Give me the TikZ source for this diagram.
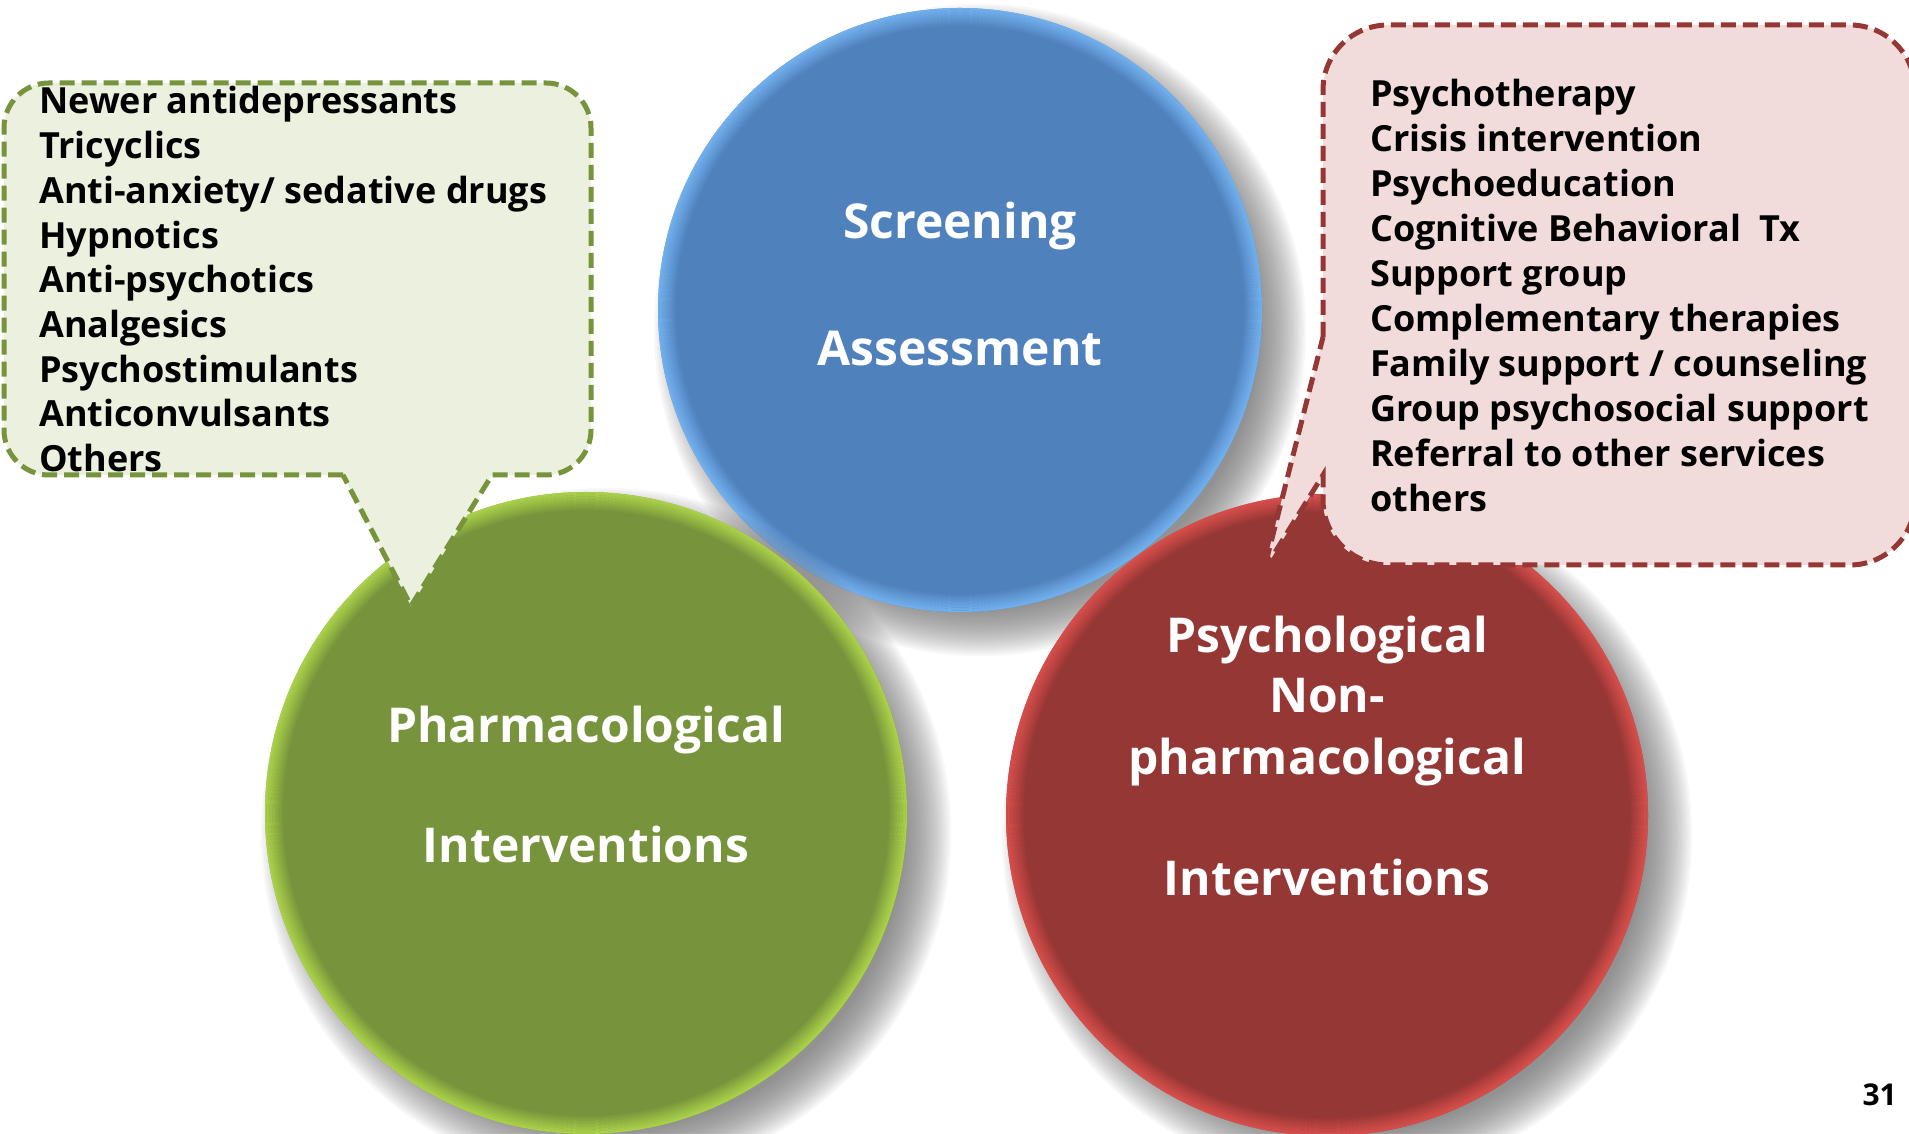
\documentclass[tikz,border=0pt]{standalone}
\usepackage{fontspec}
\setmainfont{Open Sans}
\definecolor{bluemain}{HTML}{4F81BD}
\definecolor{blueglow}{HTML}{78B8F6}
\definecolor{greenmain}{HTML}{77933C}
\definecolor{greenglow}{HTML}{B4DC4C}
\definecolor{redmain}{HTML}{953735}
\definecolor{redglow}{HTML}{E2534F}
\definecolor{greenfill}{HTML}{EBF1DE}
\definecolor{redfill}{HTML}{F2DCDB}
\definecolor{shadowgray}{HTML}{707070}
\begin{document}
\begin{tikzpicture}[x=1pt,y=1pt,
  bigcircle/.style={circle, inner sep=0pt, minimum size=#1},
  circletext/.style={text=white, font=\fontsize{48}{58}\selectfont\bfseries, anchor=base},
  listtext/.style={text=black, font=\fontsize{36}{42}\selectfont\bfseries, anchor=base west, inner sep=0pt},
  calloutline/.style={line width=5pt, dash pattern=on 15pt off 7pt},
  softshadow/.style={fill=shadowgray, fill opacity=0.055}
]
\useasboundingbox (0,0) rectangle (1909,1133);
\fill[white] (0,0) rectangle (1909,1133);

% ---- soft shadows ----
\foreach \i in {0,...,21} {
  \fill[softshadow] (980,803) circle ({302+24-2.2*\i});
}

% ---- blue circle ----
\node[bigcircle=604pt, fill=bluemain] (blue) at (960,823) {};
\foreach \i [evaluate=\i as \op using 0.85*(1-\i/12)] in {0,...,11}
  \draw[blueglow, opacity=\op, line width=1.6pt] (blue.center) circle ({302-0.8-1.5*\i});

% ---- green and red shadows ----
\foreach \i in {0,...,21} {
  \fill[softshadow] (606,300) circle ({321+24-2.2*\i});
  \fill[softshadow] (1347,298) circle ({321+24-2.2*\i});
}

\node[bigcircle=642pt, fill=greenmain] (green) at (586,320) {};
\foreach \i [evaluate=\i as \op using 0.85*(1-\i/12)] in {0,...,11}
  \draw[greenglow, opacity=\op, line width=1.6pt] (green.center) circle ({321-0.8-1.5*\i});

\node[bigcircle=642pt, fill=redmain] (red) at (1327,318) {};
\foreach \i [evaluate=\i as \op using 0.85*(1-\i/12)] in {0,...,11}
  \draw[redglow, opacity=\op, line width=1.6pt] (red.center) circle ({321-0.8-1.5*\i});

% ---- circle texts ----
\node[circletext] (scr) at (960,894) {Screening};
\node[circletext] (ass) at (960,767) {Assessment};
\node[circletext] (pha) at (586,390) {Pharmacological};
\node[circletext] (inta) at (586,270) {Interventions};
\node[circletext] (psy) at (1327,480) {Psychological};
\node[circletext] (non) at (1327,420) {Non-};
\node[circletext] (nph) at (1327,358) {pharmacological};
\node[circletext] (intb) at (1327,237) {Interventions};

% ---- green callout ----
\draw[calloutline, draw=greenmain, fill=greenfill]
  (343,658) -- (49,658) arc[start angle=270, end angle=180, radius=45]
  -- (4,1005) arc[start angle=180, end angle=90, radius=45]
  -- (546,1050) arc[start angle=90, end angle=0, radius=45]
  -- (591,703) arc[start angle=0, end angle=-90, radius=45]
  -- (492,658) -- (411,527) -- cycle;

% ---- red callout ----
\draw[calloutline, draw=redmain, fill=redfill]
  (1323,796) -- (1323,1043) arc[start angle=180, end angle=90, radius=65]
  -- (1850,1108) arc[start angle=90, end angle=0, radius=65]
  -- (1915,633) arc[start angle=0, end angle=-90, radius=65]
  -- (1388,568) arc[start angle=270, end angle=180, radius=65]
  -- (1323,658) -- (1264,563) -- cycle;

% ---- green list ----
\foreach \t [count=\k] in {Newer antidepressants, Tricyclics, Anti-anxiety/ sedative drugs, Hypnotics, Anti-psychotics, Analgesics, Psychostimulants, Anticonvulsants, Others}
  \node[listtext] (g\k) at (39,{1019-44.7*(\k-1)}) {\t};

% ---- red list ----
\foreach \t [count=\k] in {Psychotherapy, Crisis intervention, Psychoeducation, Cognitive Behavioral\ \ Tx, Support group, Complementary therapies, Family support / counseling, Group psychosocial support, Referral to other services, others}
  \node[listtext] (r\k) at (1370,{1026-44.9*(\k-1)}) {\t};

% ---- page number ----
\node[text=black, font=\fontsize{30}{36}\selectfont\bfseries, anchor=base east, inner sep=0pt] (pg) at (1897,28) {31};
\end{tikzpicture}
\end{document}
